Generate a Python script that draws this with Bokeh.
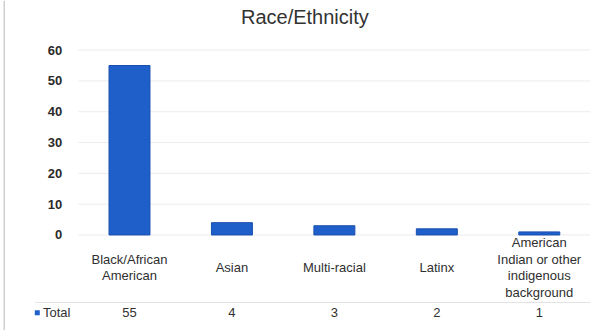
from bokeh.plotting import figure
from bokeh.layouts import row
from bokeh.models import FixedTicker, Range1d
from bokeh.embed import file_html
from bokeh.resources import INLINE
from bokeh.core.properties import value

# ---- data ----
categories = ["Black/African\nAmerican", "Asian", "Multi-racial", "Latinx",
              "American\nIndian or other\nindigenous\nbackground"]
totals = [55, 4, 3, 2, 1]
y_ticks = [0, 10, 20, 30, 40, 50, 60]
title_text = "Race/Ethnicity"
series_name = "Total"

FONT = "Liberation Sans"
TXT = "#2f2f2f"
BAR = "#1f5fc9"

idx = list(range(len(categories)))
y_rng = Range1d(-31.0, 76.1)

# thin strip carrying the chart's left border line
strip = figure(width=5, height=330, output_backend="svg", toolbar_location=None,
               x_range=Range1d(0, 5), y_range=y_rng,
               x_axis_location=None, y_axis_location=None,
               min_border_left=0, min_border_right=0, min_border_top=0, min_border_bottom=0)
strip.outline_line_color = None
strip.grid.visible = False
strip.quad(left=[3], right=[4.5], bottom=[-31.0], top=[76.1], fill_color="#cfcfcf", line_color=None)

p = figure(width=595, height=330, output_backend="svg", toolbar_location=None,
           x_range=Range1d(-0.937, 4.5), y_range=y_rng,
           x_axis_location=None, y_axis_location="left",
           min_border_left=28, min_border_right=10,
           min_border_top=0, min_border_bottom=0)
p.outline_line_color = None
p.background_fill_color = "white"
p.border_fill_color = "white"

# y axis drawn at the left edge of the plot area
p.yaxis.fixed_location = -0.5
p.yaxis.ticker = FixedTicker(ticks=y_ticks)
p.yaxis.axis_line_color = None
p.yaxis.major_tick_line_color = None
p.yaxis.minor_tick_line_color = None
p.yaxis.major_label_standoff = 10
p.yaxis.major_label_text_font = FONT
p.yaxis.major_label_text_font_size = "13px"
p.yaxis.major_label_text_font_style = "bold"
p.yaxis.major_label_text_color = "#2a2a2a"

p.xgrid.visible = False
p.ygrid.visible = False
# gridlines across the plot area only
p.segment(x0=[-0.5] * len(y_ticks), x1=[4.5] * len(y_ticks), y0=y_ticks, y1=y_ticks,
          line_color="#ececec", line_width=1)

# bars
p.vbar(x=idx, top=totals, bottom=0, width=0.4, fill_color=BAR, line_color="#1a50b0", line_width=1)

# title
p.text(x=[1.712], y=[70.7], text=[title_text], text_align="center", text_baseline="middle",
       text_font=value(FONT), text_font_size="20px", text_color="#333333")

# category labels
p.text(x=idx, y=[-10.5] * len(idx), text=categories, text_align="center", text_baseline="middle",
       text_font=value(FONT), text_font_size="13px", text_color=TXT, text_line_height=1.1)

# data table row
p.segment(x0=[-0.92], x1=[4.5], y0=[-21.9], y1=[-21.9], line_color="#e2e2e2", line_width=1)
p.text(x=idx, y=[-25.2] * len(idx), text=[str(v) for v in totals], text_align="center",
       text_baseline="middle", text_font=value(FONT), text_font_size="13px", text_color=TXT)
p.scatter(x=[-0.9], y=[-25.2], marker="square", size=5, fill_color=BAR, line_color=None)
p.text(x=[-0.845], y=[-25.2], text=[series_name], text_align="left", text_baseline="middle",
       text_font=value(FONT), text_font_size="13px", text_color=TXT)

layout = row(strip, p, spacing=0)
open("out.html", "w").write(file_html(layout, INLINE))
